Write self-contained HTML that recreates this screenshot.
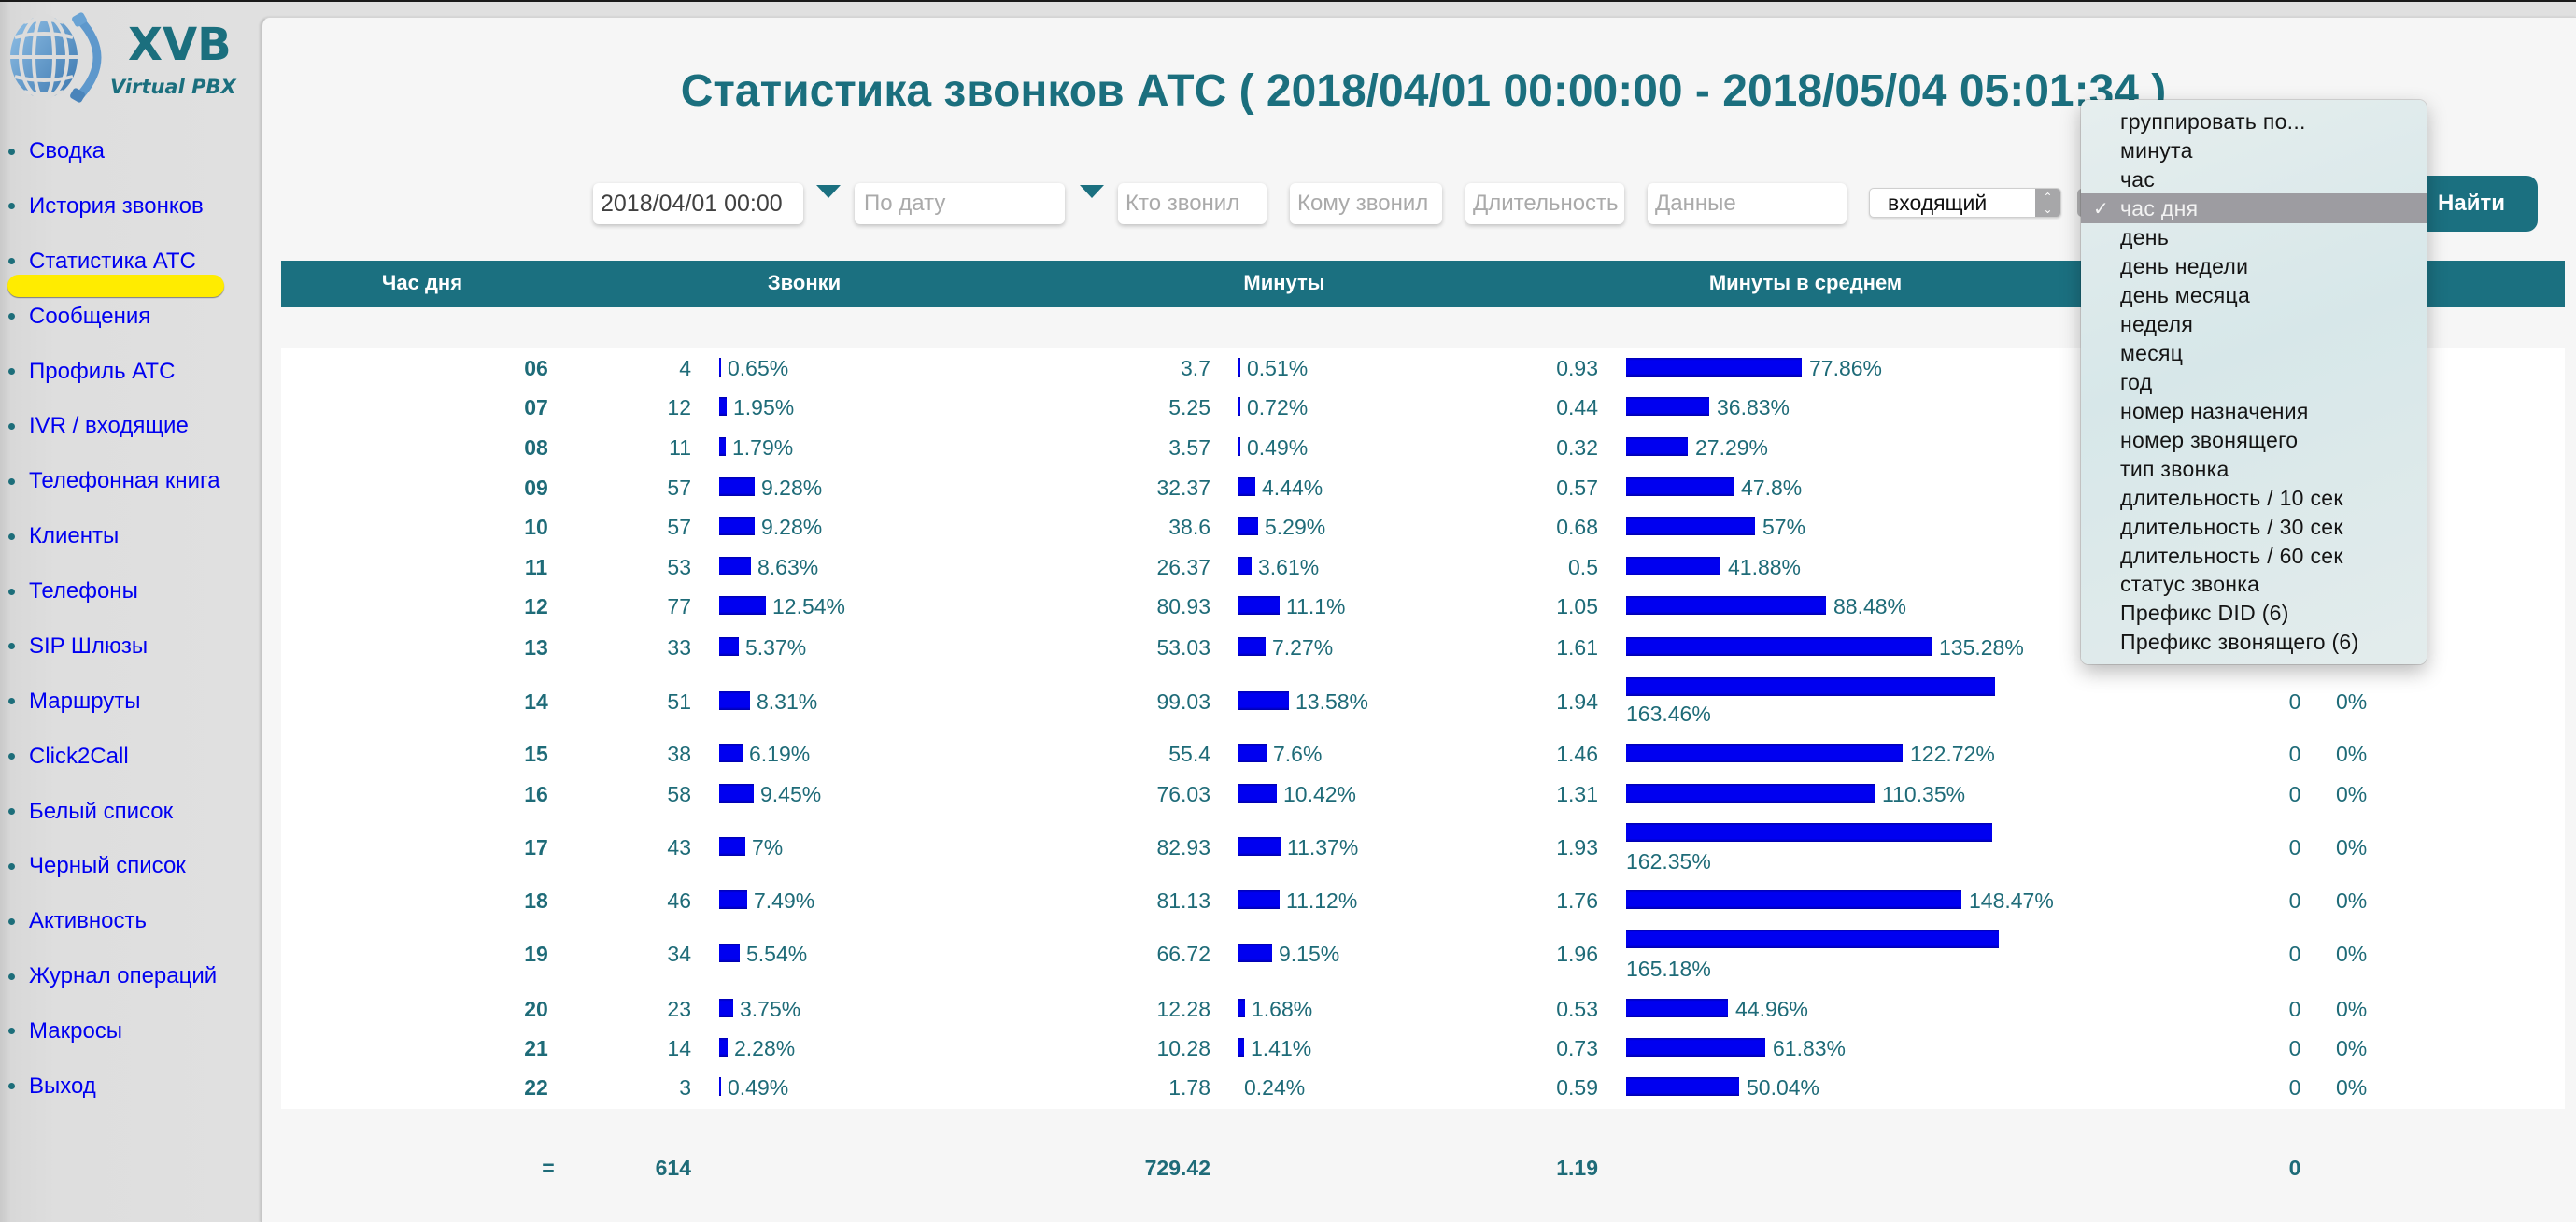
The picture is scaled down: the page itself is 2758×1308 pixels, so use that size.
<!DOCTYPE html>
<html><head><meta charset="utf-8">
<style>
html,body{margin:0;padding:0}
body{width:2758px;height:1308px;overflow:hidden;position:relative;background:linear-gradient(to right,#c9c9c9 0px,#d8d8d8 12px,#dedede 60px,#e0e0e0 278px);font-family:"Liberation Sans",sans-serif}
.topline{position:absolute;left:0;top:0;width:2758px;height:2px;background:#1a1a1a;z-index:5}
.panel{position:absolute;left:279px;top:18px;width:2479px;height:1290px;background:#f6f6f6;border-top-left-radius:10px;border-left:2px solid #c6c6c6;border-top:1px solid #d4d4d4;box-sizing:border-box;box-shadow:-1px 0 2px rgba(0,0,0,.12)}
.n{position:absolute;left:31px;font:24px/30px "Liberation Sans",sans-serif;color:#0000f0;white-space:nowrap}
.bu{position:absolute;left:9px;width:7px;height:7px;border-radius:50%;background:#1d6e7a}
.title{position:absolute;left:290px;width:2468px;top:70px;text-align:center;font:bold 48px/56px "Liberation Sans",sans-serif;color:#1b6f7e;white-space:nowrap}
.inp{position:absolute;top:196px;height:44px;background:#fff;border-radius:6px;box-shadow:0 2px 5px rgba(0,0,0,.22);font:24px/44px "Liberation Sans",sans-serif;color:#aaa;padding-left:8px;box-sizing:border-box;white-space:nowrap;overflow:hidden}
.tri{position:absolute;top:198px;width:0;height:0;border-left:13px solid transparent;border-right:13px solid transparent;border-top:14px solid #1b7080}
.hbar{position:absolute;left:301px;top:279px;width:2445px;height:50px;background:#1b7080}
.hd{position:absolute;top:288px;width:300px;text-align:center;font:bold 22px/30px "Liberation Sans",sans-serif;color:#fff;white-space:nowrap}
.white{position:absolute;left:301px;top:372px;width:2445px;height:815px;background:#fff}
.t{position:absolute;font:23px/30px "Liberation Sans",sans-serif;color:#1e6b78;white-space:nowrap}
.h{font-weight:bold;width:80px;text-align:center;left:534px}
.c{right:2018px;text-align:right}
.m{right:1462px;text-align:right}
.a{right:1047px;text-align:right}
.z{left:2437px;width:40px;text-align:center}
.zp{left:2501px}
.bo{font-weight:bold}
.b{position:absolute;height:20px;background:linear-gradient(#0000b0,#0000f0 14%,#0000f0 84%,#0000a8)}
.menu{position:absolute;left:2228px;top:107px;width:370px;height:604px;border-radius:8px;background:linear-gradient(160deg,#e6eeee 0%,#d7e7e9 45%,#e3ecec 100%);box-shadow:0 8px 22px rgba(0,0,0,.28),0 0 0 1px rgba(0,0,0,.12);overflow:hidden;z-index:10}
.mi{position:absolute;left:42px;font:23px/30px "Liberation Sans",sans-serif;color:#141414;white-space:nowrap;letter-spacing:.3px}
</style></head><body>
<div class="topline"></div>

<!-- logo -->
<svg style="position:absolute;left:0;top:0" width="130" height="115" viewBox="0 0 130 115">
<defs><linearGradient id="gl" x1="0" y1="0" x2="1" y2="1"><stop offset="0" stop-color="#93c2e8"/><stop offset="1" stop-color="#3a76ae"/></linearGradient></defs>
<ellipse cx="47" cy="61" rx="36" ry="44" fill="url(#gl)"/>
<g stroke="#dcdcdc" stroke-width="4" fill="none">
<ellipse cx="47" cy="61" rx="11" ry="44"/>
<ellipse cx="47" cy="61" rx="25" ry="44"/>
<line x1="11" y1="61" x2="83" y2="61"/>
<path d="M16 40 Q47 32 78 40"/>
<path d="M16 82 Q47 90 78 82"/>
<path d="M26 24 Q47 18 68 24"/>
<path d="M26 98 Q47 104 68 98"/>
</g>
<path d="M86 22 Q122 61 86 102" stroke="#5e98cc" stroke-width="9" fill="none" stroke-linecap="round"/>
<rect x="78" y="15" width="14" height="12" rx="3" fill="#6aa3d4" transform="rotate(-30 85 21)"/>
<rect x="76" y="96" width="14" height="12" rx="3" fill="#4a84ba" transform="rotate(30 83 102)"/>
</svg>
<div style="position:absolute;left:137px;top:20px;font:bold 48px/56px 'DejaVu Sans',sans-serif;color:#1b6f7e">XVB</div>
<div style="position:absolute;left:118px;top:80px;font:italic bold 21px/26px 'DejaVu Sans',sans-serif;color:#1b6f7e;white-space:nowrap">Virtual PBX</div>

<!-- nav -->
<div style="position:absolute;left:8px;top:294px;width:232px;height:24px;border-radius:12px;background:#ffec00;box-shadow:0 1px 1px rgba(0,0,0,.45)"></div>
<div class="bu" style="top:159px"></div><div class="n" style="top:147px">Сводка</div>
<div class="bu" style="top:217px"></div><div class="n" style="top:206px">История звонков</div>
<div class="bu" style="top:276px"></div><div class="n" style="top:265px">Статистика АТС</div>
<div class="bu" style="top:335px"></div><div class="n" style="top:324px">Сообщения</div>
<div class="bu" style="top:394px"></div><div class="n" style="top:383px">Профиль АТС</div>
<div class="bu" style="top:453px"></div><div class="n" style="top:441px">IVR / входящие</div>
<div class="bu" style="top:512px"></div><div class="n" style="top:500px">Телефонная книга</div>
<div class="bu" style="top:571px"></div><div class="n" style="top:559px">Клиенты</div>
<div class="bu" style="top:630px"></div><div class="n" style="top:618px">Телефоны</div>
<div class="bu" style="top:688px"></div><div class="n" style="top:677px">SIP Шлюзы</div>
<div class="bu" style="top:747px"></div><div class="n" style="top:736px">Маршруты</div>
<div class="bu" style="top:806px"></div><div class="n" style="top:795px">Click2Call</div>
<div class="bu" style="top:865px"></div><div class="n" style="top:854px">Белый список</div>
<div class="bu" style="top:924px"></div><div class="n" style="top:912px">Черный список</div>
<div class="bu" style="top:983px"></div><div class="n" style="top:971px">Активность</div>
<div class="bu" style="top:1042px"></div><div class="n" style="top:1030px">Журнал операций</div>
<div class="bu" style="top:1100px"></div><div class="n" style="top:1089px">Макросы</div>
<div class="bu" style="top:1159px"></div><div class="n" style="top:1148px">Выход</div>

<div class="panel"></div>

<div class="title">Статистика звонков АТС ( 2018/04/01 00:00:00 - 2018/05/04 05:01:34 )</div>

<!-- filters -->
<div class="inp" style="left:635px;width:225px;color:#404040;font-size:25px">2018/04/01 00:00</div>
<div class="tri" style="left:874px"></div>
<div class="inp" style="left:915px;width:225px;padding-left:10px">По дату</div>
<div class="tri" style="left:1156px"></div>
<div class="inp" style="left:1197px;width:159px">Кто звонил</div>
<div class="inp" style="left:1381px;width:163px">Кому звонил</div>
<div class="inp" style="left:1569px;width:170px">Длительность</div>
<div class="inp" style="left:1764px;width:213px">Данные</div>
<div style="position:absolute;left:2001px;top:201px;width:206px;height:32px;background:#fff;border:1px solid #cfcfcf;border-radius:5px;box-sizing:border-box;overflow:hidden;box-shadow:0 1px 2px rgba(0,0,0,.15)">
<div style="position:absolute;left:19px;top:0;font:23px/30px 'Liberation Sans',sans-serif;color:#111">входящий</div>
<div style="position:absolute;right:0;top:0;width:27px;height:32px;background:#a7a7a9;color:#fff;font:12px/13px 'DejaVu Sans',sans-serif;text-align:center;padding-top:3px;box-sizing:border-box">&#8963;<br>&#8964;</div>
</div>
<div style="position:absolute;left:2224px;top:202px;width:30px;height:30px;background:#b4b4b6;border-radius:5px"></div>
<div style="position:absolute;left:2570px;top:188px;width:147px;height:60px;background:#1b7080;border-radius:12px"></div>
<div style="position:absolute;left:2596px;top:203px;width:100px;text-align:center;font:bold 24px/30px 'Liberation Sans',sans-serif;color:#fff">Найти</div>

<!-- header -->
<div class="hbar"></div>
<div class="hd" style="left:302px">Час дня</div>
<div class="hd" style="left:711px">Звонки</div>
<div class="hd" style="left:1225px">Минуты</div>
<div class="hd" style="left:1783px">Минуты в среднем</div>

<div class="white"></div>

<!-- 06 -->
<div class="t h" style="top:379px">06</div><div class="t c" style="top:379px">4</div><div class="b" style="left:770px;top:383px;width:2px"></div><div class="t" style="left:779px;top:379px">0.65%</div>
<div class="t m" style="top:379px">3.7</div><div class="b" style="left:1326px;top:383px;width:2px"></div><div class="t" style="left:1335px;top:379px">0.51%</div>
<div class="t a" style="top:379px">0.93</div><div class="b" style="left:1741px;top:383px;width:188px"></div><div class="t" style="left:1937px;top:379px">77.86%</div>
<div class="t z" style="top:379px">0</div><div class="t zp" style="top:379px">0%</div>
<!-- 07 -->
<div class="t h" style="top:421px">07</div><div class="t c" style="top:421px">12</div><div class="b" style="left:770px;top:425px;width:8px"></div><div class="t" style="left:785px;top:421px">1.95%</div>
<div class="t m" style="top:421px">5.25</div><div class="b" style="left:1326px;top:425px;width:2px"></div><div class="t" style="left:1335px;top:421px">0.72%</div>
<div class="t a" style="top:421px">0.44</div><div class="b" style="left:1741px;top:425px;width:89px"></div><div class="t" style="left:1838px;top:421px">36.83%</div>
<div class="t z" style="top:421px">0</div><div class="t zp" style="top:421px">0%</div>
<!-- 08 -->
<div class="t h" style="top:464px">08</div><div class="t c" style="top:464px">11</div><div class="b" style="left:770px;top:468px;width:7px"></div><div class="t" style="left:784px;top:464px">1.79%</div>
<div class="t m" style="top:464px">3.57</div><div class="b" style="left:1326px;top:468px;width:2px"></div><div class="t" style="left:1335px;top:464px">0.49%</div>
<div class="t a" style="top:464px">0.32</div><div class="b" style="left:1741px;top:468px;width:66px"></div><div class="t" style="left:1815px;top:464px">27.29%</div>
<div class="t z" style="top:464px">0</div><div class="t zp" style="top:464px">0%</div>
<!-- 09 -->
<div class="t h" style="top:507px">09</div><div class="t c" style="top:507px">57</div><div class="b" style="left:770px;top:511px;width:38px"></div><div class="t" style="left:815px;top:507px">9.28%</div>
<div class="t m" style="top:507px">32.37</div><div class="b" style="left:1326px;top:511px;width:18px"></div><div class="t" style="left:1351px;top:507px">4.44%</div>
<div class="t a" style="top:507px">0.57</div><div class="b" style="left:1741px;top:511px;width:115px"></div><div class="t" style="left:1864px;top:507px">47.8%</div>
<div class="t z" style="top:507px">0</div><div class="t zp" style="top:507px">0%</div>
<!-- 10 -->
<div class="t h" style="top:549px">10</div><div class="t c" style="top:549px">57</div><div class="b" style="left:770px;top:553px;width:38px"></div><div class="t" style="left:815px;top:549px">9.28%</div>
<div class="t m" style="top:549px">38.6</div><div class="b" style="left:1326px;top:553px;width:21px"></div><div class="t" style="left:1354px;top:549px">5.29%</div>
<div class="t a" style="top:549px">0.68</div><div class="b" style="left:1741px;top:553px;width:138px"></div><div class="t" style="left:1887px;top:549px">57%</div>
<div class="t z" style="top:549px">0</div><div class="t zp" style="top:549px">0%</div>
<!-- 11 -->
<div class="t h" style="top:592px">11</div><div class="t c" style="top:592px">53</div><div class="b" style="left:770px;top:596px;width:34px"></div><div class="t" style="left:811px;top:592px">8.63%</div>
<div class="t m" style="top:592px">26.37</div><div class="b" style="left:1326px;top:596px;width:14px"></div><div class="t" style="left:1347px;top:592px">3.61%</div>
<div class="t a" style="top:592px">0.5</div><div class="b" style="left:1741px;top:596px;width:101px"></div><div class="t" style="left:1850px;top:592px">41.88%</div>
<div class="t z" style="top:592px">0</div><div class="t zp" style="top:592px">0%</div>
<!-- 12 -->
<div class="t h" style="top:634px">12</div><div class="t c" style="top:634px">77</div><div class="b" style="left:770px;top:638px;width:50px"></div><div class="t" style="left:827px;top:634px">12.54%</div>
<div class="t m" style="top:634px">80.93</div><div class="b" style="left:1326px;top:638px;width:44px"></div><div class="t" style="left:1377px;top:634px">11.1%</div>
<div class="t a" style="top:634px">1.05</div><div class="b" style="left:1741px;top:638px;width:214px"></div><div class="t" style="left:1963px;top:634px">88.48%</div>
<div class="t z" style="top:634px">0</div><div class="t zp" style="top:634px">0%</div>
<!-- 13 -->
<div class="t h" style="top:678px">13</div><div class="t c" style="top:678px">33</div><div class="b" style="left:770px;top:682px;width:21px"></div><div class="t" style="left:798px;top:678px">5.37%</div>
<div class="t m" style="top:678px">53.03</div><div class="b" style="left:1326px;top:682px;width:29px"></div><div class="t" style="left:1362px;top:678px">7.27%</div>
<div class="t a" style="top:678px">1.61</div><div class="b" style="left:1741px;top:682px;width:327px"></div><div class="t" style="left:2076px;top:678px">135.28%</div>
<div class="t z" style="top:678px">0</div><div class="t zp" style="top:678px">0%</div>
<!-- 14 -->
<div class="t h" style="top:736px">14</div><div class="t c" style="top:736px">51</div><div class="b" style="left:770px;top:740px;width:33px"></div><div class="t" style="left:810px;top:736px">8.31%</div>
<div class="t m" style="top:736px">99.03</div><div class="b" style="left:1326px;top:740px;width:54px"></div><div class="t" style="left:1387px;top:736px">13.58%</div>
<div class="t a" style="top:736px">1.94</div><div class="b" style="left:1741px;top:725px;width:395px"></div><div class="t" style="left:1741px;top:749px">163.46%</div>
<div class="t z" style="top:736px">0</div><div class="t zp" style="top:736px">0%</div>
<!-- 15 -->
<div class="t h" style="top:792px">15</div><div class="t c" style="top:792px">38</div><div class="b" style="left:770px;top:796px;width:25px"></div><div class="t" style="left:802px;top:792px">6.19%</div>
<div class="t m" style="top:792px">55.4</div><div class="b" style="left:1326px;top:796px;width:30px"></div><div class="t" style="left:1363px;top:792px">7.6%</div>
<div class="t a" style="top:792px">1.46</div><div class="b" style="left:1741px;top:796px;width:296px"></div><div class="t" style="left:2045px;top:792px">122.72%</div>
<div class="t z" style="top:792px">0</div><div class="t zp" style="top:792px">0%</div>
<!-- 16 -->
<div class="t h" style="top:835px">16</div><div class="t c" style="top:835px">58</div><div class="b" style="left:770px;top:839px;width:37px"></div><div class="t" style="left:814px;top:835px">9.45%</div>
<div class="t m" style="top:835px">76.03</div><div class="b" style="left:1326px;top:839px;width:41px"></div><div class="t" style="left:1374px;top:835px">10.42%</div>
<div class="t a" style="top:835px">1.31</div><div class="b" style="left:1741px;top:839px;width:266px"></div><div class="t" style="left:2015px;top:835px">110.35%</div>
<div class="t z" style="top:835px">0</div><div class="t zp" style="top:835px">0%</div>
<!-- 17 -->
<div class="t h" style="top:892px">17</div><div class="t c" style="top:892px">43</div><div class="b" style="left:770px;top:896px;width:28px"></div><div class="t" style="left:805px;top:892px">7%</div>
<div class="t m" style="top:892px">82.93</div><div class="b" style="left:1326px;top:896px;width:45px"></div><div class="t" style="left:1378px;top:892px">11.37%</div>
<div class="t a" style="top:892px">1.93</div><div class="b" style="left:1741px;top:881px;width:392px"></div><div class="t" style="left:1741px;top:907px">162.35%</div>
<div class="t z" style="top:892px">0</div><div class="t zp" style="top:892px">0%</div>
<!-- 18 -->
<div class="t h" style="top:949px">18</div><div class="t c" style="top:949px">46</div><div class="b" style="left:770px;top:953px;width:30px"></div><div class="t" style="left:807px;top:949px">7.49%</div>
<div class="t m" style="top:949px">81.13</div><div class="b" style="left:1326px;top:953px;width:44px"></div><div class="t" style="left:1377px;top:949px">11.12%</div>
<div class="t a" style="top:949px">1.76</div><div class="b" style="left:1741px;top:953px;width:359px"></div><div class="t" style="left:2108px;top:949px">148.47%</div>
<div class="t z" style="top:949px">0</div><div class="t zp" style="top:949px">0%</div>
<!-- 19 -->
<div class="t h" style="top:1006px">19</div><div class="t c" style="top:1006px">34</div><div class="b" style="left:770px;top:1010px;width:22px"></div><div class="t" style="left:799px;top:1006px">5.54%</div>
<div class="t m" style="top:1006px">66.72</div><div class="b" style="left:1326px;top:1010px;width:36px"></div><div class="t" style="left:1369px;top:1006px">9.15%</div>
<div class="t a" style="top:1006px">1.96</div><div class="b" style="left:1741px;top:995px;width:399px"></div><div class="t" style="left:1741px;top:1022px">165.18%</div>
<div class="t z" style="top:1006px">0</div><div class="t zp" style="top:1006px">0%</div>
<!-- 20 -->
<div class="t h" style="top:1065px">20</div><div class="t c" style="top:1065px">23</div><div class="b" style="left:770px;top:1069px;width:15px"></div><div class="t" style="left:792px;top:1065px">3.75%</div>
<div class="t m" style="top:1065px">12.28</div><div class="b" style="left:1326px;top:1069px;width:7px"></div><div class="t" style="left:1340px;top:1065px">1.68%</div>
<div class="t a" style="top:1065px">0.53</div><div class="b" style="left:1741px;top:1069px;width:109px"></div><div class="t" style="left:1858px;top:1065px">44.96%</div>
<div class="t z" style="top:1065px">0</div><div class="t zp" style="top:1065px">0%</div>
<!-- 21 -->
<div class="t h" style="top:1107px">21</div><div class="t c" style="top:1107px">14</div><div class="b" style="left:770px;top:1111px;width:9px"></div><div class="t" style="left:786px;top:1107px">2.28%</div>
<div class="t m" style="top:1107px">10.28</div><div class="b" style="left:1326px;top:1111px;width:6px"></div><div class="t" style="left:1339px;top:1107px">1.41%</div>
<div class="t a" style="top:1107px">0.73</div><div class="b" style="left:1741px;top:1111px;width:149px"></div><div class="t" style="left:1898px;top:1107px">61.83%</div>
<div class="t z" style="top:1107px">0</div><div class="t zp" style="top:1107px">0%</div>
<!-- 22 -->
<div class="t h" style="top:1149px">22</div><div class="t c" style="top:1149px">3</div><div class="b" style="left:770px;top:1153px;width:2px"></div><div class="t" style="left:779px;top:1149px">0.49%</div>
<div class="t m" style="top:1149px">1.78</div><div class="t" style="left:1332px;top:1149px">0.24%</div>
<div class="t a" style="top:1149px">0.59</div><div class="b" style="left:1741px;top:1153px;width:121px"></div><div class="t" style="left:1870px;top:1149px">50.04%</div>
<div class="t z" style="top:1149px">0</div><div class="t zp" style="top:1149px">0%</div>

<!-- totals -->
<div class="t bo" style="left:547px;width:80px;text-align:center;top:1235px">=</div>
<div class="t c bo" style="top:1235px">614</div>
<div class="t m bo" style="top:1235px">729.42</div>
<div class="t a bo" style="top:1235px">1.19</div>
<div class="t z bo" style="top:1235px">0</div>

<!-- dropdown menu -->
<div class="menu">
<div style="position:absolute;left:0;top:100px;width:370px;height:32px;background:#9d9ca1"></div>
<div class="mi" style="top:8px">группировать по...</div>
<div class="mi" style="top:39px">минута</div>
<div class="mi" style="top:70px">час</div>
<div class="mi" style="left:13px;top:101px;color:#f4f4f4;font-family:'DejaVu Sans',sans-serif;font-size:20px">&#10003;</div>
<div class="mi" style="top:101px;color:#f2f2f2">час дня</div>
<div class="mi" style="top:132px">день</div>
<div class="mi" style="top:163px">день недели</div>
<div class="mi" style="top:194px">день месяца</div>
<div class="mi" style="top:225px">неделя</div>
<div class="mi" style="top:256px">месяц</div>
<div class="mi" style="top:287px">год</div>
<div class="mi" style="top:318px">номер назначения</div>
<div class="mi" style="top:349px">номер звонящего</div>
<div class="mi" style="top:380px">тип звонка</div>
<div class="mi" style="top:411px">длительность / 10 сек</div>
<div class="mi" style="top:442px">длительность / 30 сек</div>
<div class="mi" style="top:473px">длительность / 60 сек</div>
<div class="mi" style="top:503px">статус звонка</div>
<div class="mi" style="top:534px">Префикс DID (6)</div>
<div class="mi" style="top:565px">Префикс звонящего (6)</div>
</div>
</body></html>
